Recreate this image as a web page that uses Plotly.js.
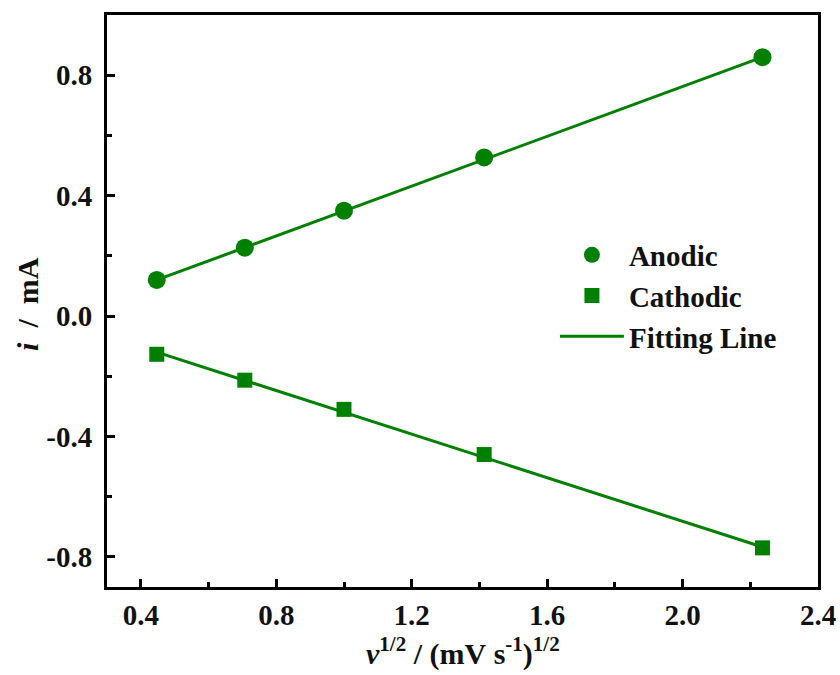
<!DOCTYPE html>
<html>
<head>
<meta charset="utf-8">
<script src="https://cdn.plot.ly/plotly-3.0.1.min.js"></script>
<style>html,body{margin:0;padding:0;background:#fff;}#chart{width:840px;height:675px;}</style>
</head>
<body>
<div id="chart"></div>
<script>
// Data
const sqrtScanRate = [0.447, 0.707, 1.0, 1.414, 2.236];
const anodicCurrent = [0.12, 0.227, 0.35, 0.527, 0.86];
const cathodicCurrent = [-0.127, -0.213, -0.31, -0.46, -0.77];
const fitX = [0.447, 2.236];
const anodicFit = [0.12, 0.86];
const cathodicFit = [-0.12, -0.767];
const xTickVals = [0.4, 0.8, 1.2, 1.6, 2.0, 2.4];
const xTickText = ['0.4', '0.8', '1.2', '1.6', '2.0', '2.4'];
const yTickVals = [-0.8, -0.4, 0.0, 0.4, 0.8];
const yTickText = ['-0.8', '-0.4', '0.0', '0.4', '0.8'];
const xTitle = '<i>ν</i><sup>1/2</sup>\u00a0/\u00a0(mV\u00a0s<sup>-1</sup>)<sup>1/2</sup>';
const yTitle = '<i>i</i>\u00a0\u00a0/\u00a0\u00a0mA';

const green = '#008000';
const font = '"Liberation Serif", "Times New Roman", serif';
const ink = '#111';

const traces = [
  {x: fitX, y: anodicFit, mode: 'lines', line: {color: green, width: 3}, showlegend: false, legendgroup: 'c', hoverinfo: 'skip'},
  {x: fitX, y: cathodicFit, mode: 'lines', line: {color: green, width: 3}, name: 'Fitting Line', legendgroup: 'c', legendrank: 3},
  {x: sqrtScanRate, y: anodicCurrent, mode: 'markers', name: 'Anodic', legendgroup: 'a', legendrank: 1,
   marker: {symbol: 'circle', size: 18, color: green}},
  {x: sqrtScanRate, y: cathodicCurrent, mode: 'markers', name: 'Cathodic', legendgroup: 'b', legendrank: 2,
   marker: {symbol: 'square', size: 15, color: green}}
];

const layout = {
  width: 840, height: 675,
  margin: {l: 107, r: 22, t: 15, b: 88},
  paper_bgcolor: '#fff', plot_bgcolor: '#fff',
  font: {family: font, color: ink, size: 29, weight: 'bold'},
  showlegend: true,
  legend: {x: 0.63, y: 0.625, xanchor: 'left', yanchor: 'top', bgcolor: 'rgba(0,0,0,0)',
           font: {family: font, size: 29, weight: 'bold', color: ink},
           itemwidth: 64, tracegroupgap: 4, traceorder: 'normal'},
  xaxis: {
    range: [0.3, 2.4], showgrid: false, zeroline: false,
    showline: true, linecolor: '#000', linewidth: 3, mirror: true,
    ticks: 'inside', ticklen: 8, tickwidth: 3, tickcolor: '#000',
    tickvals: xTickVals, ticktext: xTickText, ticklabelstandoff: 0,
    tickfont: {family: font, size: 29, weight: 'bold', color: ink},
    minor: {ticks: 'inside', ticklen: 5, tickwidth: 3, tickcolor: '#000', dtick: 0.2, tick0: 0.2, showgrid: false}
  },
  yaxis: {
    range: [-0.9, 1.0], showgrid: false, zeroline: false,
    showline: true, linecolor: '#000', linewidth: 3, mirror: true,
    ticks: 'inside', ticklen: 8, tickwidth: 3, tickcolor: '#000',
    tickvals: yTickVals, ticktext: yTickText, ticklabelstandoff: 6,
    tickfont: {family: font, size: 29, weight: 'bold', color: ink},
    minor: {ticks: 'inside', ticklen: 5, tickwidth: 3, tickcolor: '#000', dtick: 0.2, tick0: 0.2, showgrid: false}
  },
  annotations: [
    {text: xTitle, xref: 'paper', yref: 'paper', x: 0.5, y: -0.112, xanchor: 'center', yanchor: 'middle',
     showarrow: false, font: {family: font, size: 30, weight: 'bold', color: ink}},
    {text: yTitle, xref: 'paper', yref: 'paper', x: -0.111, y: 0.495, xanchor: 'center', yanchor: 'middle',
     textangle: -90, showarrow: false, font: {family: font, size: 30, weight: 'bold', color: ink}}
  ]
};

Plotly.newPlot('chart', traces, layout, {displayModeBar: false, staticPlot: true});
</script>
</body>
</html>
